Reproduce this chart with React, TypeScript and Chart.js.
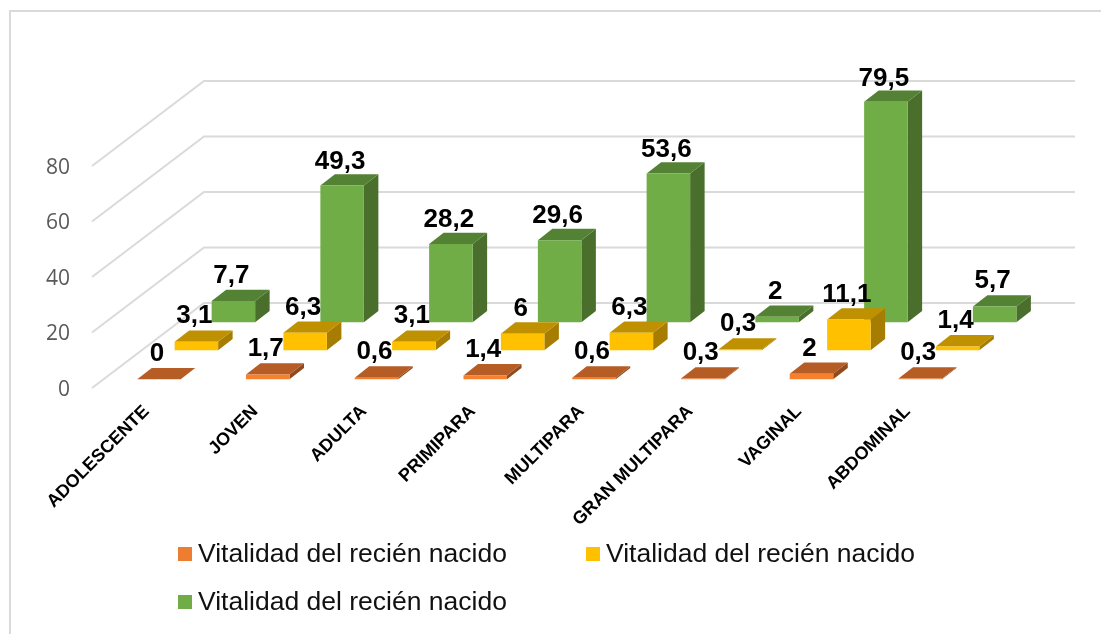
import React, { useEffect, useRef } from "react";
import { Chart, registerables } from "chart.js";

Chart.register(...registerables);

const categories = ["ADOLESCENTE", "JOVEN", "ADULTA", "PRIMIPARA", "MULTIPARA", "GRAN MULTIPARA", "VAGINAL", "ABDOMINAL"];
const seriesName = "Vitalidad del recién nacido";
const orangeValues = [0, 1.7, 0.6, 1.4, 0.6, 0.3, 2, 0.3];
const yellowValues = [3.1, 6.3, 3.1, 6, 6.3, 0.3, 11.1, 1.4];
const greenValues = [7.7, 49.3, 28.2, 29.6, 53.6, 2, 79.5, 5.7];
const yTicks = [0, 20, 40, 60, 80];

const FONT = "'Liberation Sans', Arial, sans-serif";
const WALL_DX = 112;
const WALL_DY = -85;
const BAR_DX = 14.5;
const BAR_DY = -11.3;
// Row offsets of each series inside the 3D floor (front to back)
const rows = [
  { dx: 12.6, dy: -8.7, front: "#F5802F", top: "#B55D25", side: "#8F4A1D" },
  { dx: 50, dy: -37.7, front: "#FFC000", top: "#BF9000", side: "#A67D00" },
  { dx: 87, dy: -65.7, front: "#70AD47", top: "#548235", side: "#4A6F2C" },
];
const legendSpots = [
  { x: 178, y: 554 },
  { x: 586, y: 554 },
  { x: 178, y: 602 },
];

const poly = (ctx: CanvasRenderingContext2D, pts: number[][], color: string) => {
  ctx.beginPath();
  pts.forEach((p, i) => (i ? ctx.lineTo(p[0], p[1]) : ctx.moveTo(p[0], p[1])));
  ctx.closePath();
  ctx.fillStyle = color;
  ctx.fill();
};

const scene3d = {
  id: "scene3d",
  beforeDraw(chart: any) {
    const { ctx, chartArea: a, scales } = chart;
    ctx.save();
    ctx.fillStyle = "#ffffff";
    ctx.fillRect(0, 0, chart.width, chart.height);
    ctx.strokeStyle = "#DADADA";
    ctx.lineWidth = 2;
    ctx.beginPath();
    ctx.moveTo(10, chart.height);
    ctx.lineTo(10, 11);
    ctx.lineTo(chart.width, 11);
    ctx.stroke();
    yTicks.forEach((t) => {
      const y = scales.y.getPixelForValue(t);
      ctx.beginPath();
      ctx.moveTo(a.left, y);
      ctx.lineTo(a.left + WALL_DX, y + WALL_DY);
      ctx.lineTo(a.right + WALL_DX + 1, y + WALL_DY);
      ctx.stroke();
    });
    ctx.restore();
  },
  beforeDatasetDraw(chart: any, args: any) {
    const { ctx } = chart;
    const r = rows[args.index];
    ctx.save();
    ctx.translate(r.dx, r.dy);
    args.meta.data.forEach((el: any) => {
      const { x, y, base, width } = el.getProps(["x", "y", "base", "width"], true);
      const L = x - width / 2;
      const R = x + width / 2;
      poly(ctx, [[R, y], [R + BAR_DX, y + BAR_DY], [R + BAR_DX, base + BAR_DY], [R, base]], r.side);
      poly(ctx, [[L, y], [L + BAR_DX, y + BAR_DY], [R + BAR_DX, y + BAR_DY], [R, y]], r.top);
    });
  },
  afterDatasetDraw(chart: any) {
    chart.ctx.restore();
  },
  afterDatasetsDraw(chart: any) {
    const { ctx } = chart;
    ctx.save();
    ctx.font = `bold 26px ${FONT}`;
    ctx.fillStyle = "#000000";
    ctx.textAlign = "center";
    ctx.textBaseline = "alphabetic";
    chart.data.datasets.forEach((ds: any, i: number) => {
      const r = rows[i];
      chart.getDatasetMeta(i).data.forEach((el: any, j: number) => {
        const label = String(ds.data[j]).replace(".", ",");
        const drift = (ds.data[j] / 80) * 2.5;
        ctx.fillText(label, el.x + r.dx - 2, el.y + r.dy + BAR_DY - 7 + drift);
      });
    });
    ctx.font = `26.5px ${FONT}`;
    ctx.textAlign = "left";
    ctx.textBaseline = "alphabetic";
    chart.data.datasets.forEach((ds: any, i: number) => {
      const s = legendSpots[i];
      ctx.fillStyle = ds.legendColor;
      ctx.fillRect(s.x, s.y - 7, 14, 14);
      ctx.fillStyle = "#111111";
      ctx.fillText(ds.label, s.x + 20, s.y + 8);
    });
    ctx.restore();
  },
};

export default function App() {
  const ref = useRef<HTMLCanvasElement>(null);
  useEffect(() => {
    const mk = (data: number[], i: number, legendColor: string) => ({
      label: seriesName,
      data,
      backgroundColor: rows[i].front,
      legendColor,
      clip: false,
      barPercentage: 0.4,
      categoryPercentage: 1,
      grouped: false,
      borderWidth: 0,
    });
    const chart = new Chart(ref.current!, {
      type: "bar",
      data: {
        labels: categories,
        datasets: [
          mk(orangeValues, 0, "#ED7D31"),
          mk(yellowValues, 1, "#FFC000"),
          mk(greenValues, 2, "#70AD47"),
        ] as any,
      },
      plugins: [scene3d as any],
      options: {
        responsive: false,
        animation: false,
        layout: { padding: { left: 0, right: 139, top: 166, bottom: 0 } },
        plugins: { legend: { display: false }, tooltip: { enabled: false } },
        scales: {
          x: {
            grid: { display: false },
            border: { display: false },
            afterFit: (s: any) => { s.height = 246; },
            ticks: {
              autoSkip: false,
              minRotation: 45,
              maxRotation: 45,
              padding: 5,
              color: "#000000",
              font: { family: FONT, size: 18, weight: "bold" },
            },
          },
          y: {
            min: 0,
            max: 80,
            grid: { display: false },
            border: { display: false },
            afterFit: (s: any) => { s.width = 92; },
            afterBuildTicks: (s: any) => { s.ticks = yTicks.map((value) => ({ value })); },
            ticks: {
              padding: 14,
              labelOffset: 2,
              color: "#595959",
              font: { family: "'Open Sans', sans-serif", size: 21 },
            },
          },
        },
      } as any,
    });
    return () => chart.destroy();
  }, []);
  return (
    <canvas
      ref={ref}
      width={1101}
      height={634}
      style={{ position: "fixed", left: 0, top: 0, display: "block" }}
    />
  );
}
